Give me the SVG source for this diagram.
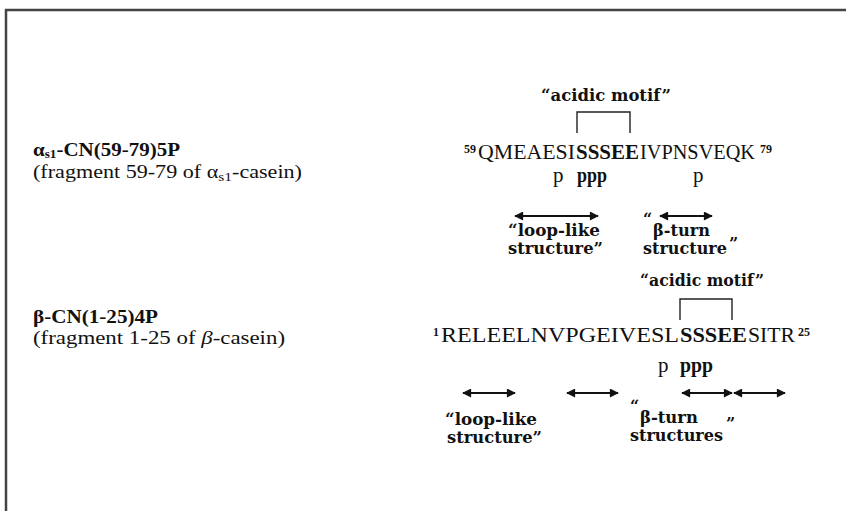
<svg xmlns="http://www.w3.org/2000/svg" width="846" height="511" viewBox="0 0 846 511">
<defs>
<style>
.t{font-family:"Liberation Serif","Times New Roman",serif;fill:#111}
.b{font-weight:bold}
.seq{font-size:21px}
.lab{font-family:"DejaVu Serif","Liberation Serif",serif;font-size:16px;font-weight:bold;fill:#111}
.mot{font-size:17px}
.sup{font-size:12px;font-weight:bold}
.br{fill:none;stroke:#222;stroke-width:1.4}
.ar{stroke:#111;stroke-width:2;marker-start:url(#h);marker-end:url(#h)}
</style>
<marker id="h" viewBox="0 0 10 10" refX="9" refY="5" markerWidth="10" markerHeight="9" markerUnits="userSpaceOnUse" orient="auto-start-reverse">
<path d="M0,0 L10,5 L0,10 z" fill="#111"/>
</marker>
</defs>
<rect width="846" height="511" fill="#fff"/>
<path d="M6,520 V10 H850" fill="none" stroke="#444" stroke-width="2.5"/>

<g id="label-alpha">
<text class="t b" x="33" y="156" font-size="19" textLength="147" lengthAdjust="spacingAndGlyphs">α<tspan font-size="12" dy="2">s1</tspan><tspan dy="-2">-CN(59-79)5P</tspan></text>
<text class="t" x="33" y="178" font-size="18.5" textLength="269" lengthAdjust="spacingAndGlyphs">(fragment 59-79 of α<tspan font-size="13" dy="3">s1</tspan><tspan dy="-3">-casein)</tspan></text>
</g>

<g id="label-beta">
<text class="t b" x="33" y="323" font-size="19" textLength="125" lengthAdjust="spacingAndGlyphs">β-CN(1-25)4P</text>
<text class="t" x="33" y="344" font-size="18.5" textLength="252" lengthAdjust="spacingAndGlyphs">(fragment 1-25 of <tspan font-style="italic">β</tspan>-casein)</text>
</g>

<g id="motif-alpha">
<text class="lab mot" x="541" y="101" textLength="130" lengthAdjust="spacingAndGlyphs">“acidic motif”</text>
</g>

<g id="seq-alpha">
<text class="t sup" x="464" y="153">59</text>
<text class="t seq" x="478" y="159" textLength="97" lengthAdjust="spacingAndGlyphs">QMEAESI</text>
<text class="t seq b" x="576" y="159" textLength="63" lengthAdjust="spacingAndGlyphs">SSSEE</text>
<text class="t seq" x="640" y="159" textLength="115" lengthAdjust="spacingAndGlyphs">IVPNSVEQK</text>
<text class="t sup" x="760" y="153">79</text>
<text class="t seq" x="553" y="182">p</text>
<text class="t seq b" x="577" y="182" textLength="30" lengthAdjust="spacingAndGlyphs">ppp</text>
<text class="t seq" x="693" y="182">p</text>
</g>

<g id="structures-alpha">
<text class="lab"><tspan x="508" y="236" textLength="92" lengthAdjust="spacingAndGlyphs">“loop-like</tspan><tspan x="508" y="254" textLength="95" lengthAdjust="spacingAndGlyphs">structure”</tspan></text>
<text class="lab"><tspan x="643" y="225">“</tspan><tspan x="653" y="236" textLength="57" lengthAdjust="spacingAndGlyphs">β-turn</tspan><tspan x="729" y="249">”</tspan><tspan x="643" y="254" textLength="84" lengthAdjust="spacingAndGlyphs">structure</tspan></text>
</g>

<g id="motif-beta">
<text class="lab mot" x="640" y="286" textLength="124" lengthAdjust="spacingAndGlyphs">“acidic motif”</text>
</g>

<g id="seq-beta">
<text class="t sup" x="433" y="336">1</text>
<text class="t seq" x="441" y="342" textLength="238" lengthAdjust="spacingAndGlyphs">RELEELNVPGEIVESL</text>
<text class="t seq b" x="680" y="342" textLength="67" lengthAdjust="spacingAndGlyphs">SSSEE</text>
<text class="t seq" x="748" y="342" textLength="47" lengthAdjust="spacingAndGlyphs">SITR</text>
<text class="t sup" x="798" y="336">25</text>
<text class="t seq" x="658" y="372">p</text>
<text class="t seq b" x="680" y="372" textLength="33" lengthAdjust="spacingAndGlyphs">ppp</text>
</g>

<g id="structures-beta">
<text class="lab"><tspan x="445" y="425" textLength="92" lengthAdjust="spacingAndGlyphs">“loop-like</tspan><tspan x="447" y="443" textLength="95" lengthAdjust="spacingAndGlyphs">structure”</tspan></text>
<text class="lab"><tspan x="630" y="412">“</tspan><tspan x="640" y="423" textLength="58" lengthAdjust="spacingAndGlyphs">β-turn</tspan><tspan x="726" y="429">”</tspan><tspan x="630" y="441" textLength="93" lengthAdjust="spacingAndGlyphs">structures</tspan></text>
</g>

<g id="connectors">
<path class="br" d="M577,133 V112 H630 V133"/>
<path class="br" d="M680,320 V299 H732 V320"/>
<line class="ar" x1="515" y1="216" x2="598" y2="216"/>
<line class="ar" x1="660" y1="216" x2="712" y2="216"/>
<line class="ar" x1="463" y1="393" x2="515" y2="393"/>
<line class="ar" x1="567" y1="393" x2="618" y2="393"/>
<line class="ar" x1="682" y1="393" x2="732" y2="393"/>
<line class="ar" x1="734" y1="393" x2="785" y2="393"/>
</g>
</svg>
